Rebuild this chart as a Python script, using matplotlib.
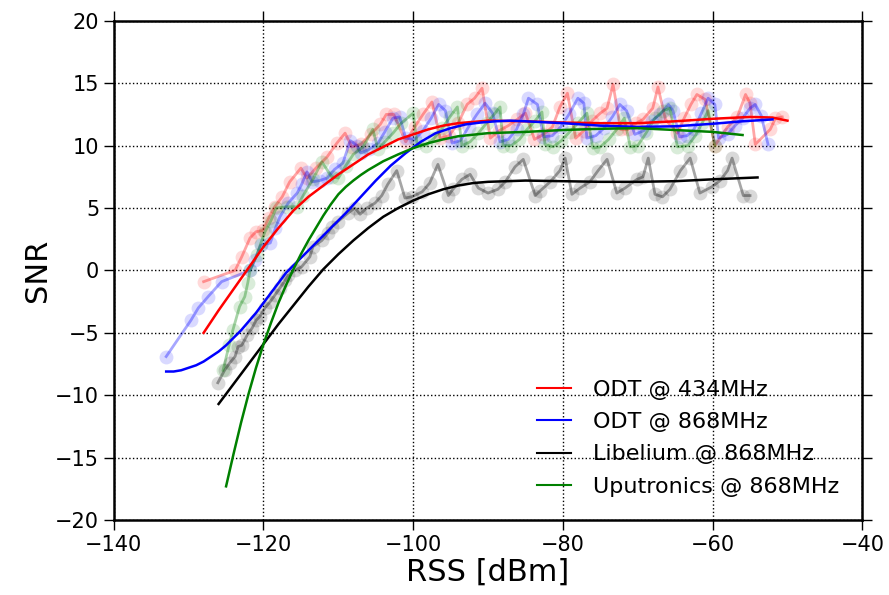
import matplotlib
matplotlib.use('Agg')
import matplotlib.pyplot as plt
import numpy as np

# raw measurements (RSS [dBm], SNR)
odt434_rss = [-128.0, -123.8, -122.9, -121.8, -121.0, -120.1, -119.3, -118.5, -117.5, -116.5,
              -115.0, -114.2, -113.0, -111.5, -110.2, -109.1, -108.2, -107.0, -105.7, -104.4,
              -103.6, -102.6, -101.0, -99.8, -98.7, -97.5, -96.4, -95.2, -94.0, -92.8,
              -91.8, -90.8, -89.7, -88.5, -87.3, -86.1, -85.0, -83.8, -82.6, -81.4,
              -80.4, -79.4, -78.3, -77.2, -76.1, -75.0, -74.1, -73.3, -72.3, -71.3,
              -70.2, -69.3, -68.0, -67.3, -66.3, -64.7, -63.8, -62.9, -62.1, -61.0,
              -59.7, -58.0, -56.7, -55.6, -55.0, -54.3, -52.3, -51.6, -50.7]
odt434_snr = [-0.9, 0.0, 1.1, 2.6, 3.1, 3.2, 4.2, 5.1, 5.9, 7.1,
              8.2, 7.4, 8.2, 9.1, 10.2, 11.0, 9.9, 10.1, 10.9, 11.7,
              12.5, 12.5, 10.3, 11.5, 12.5, 13.5, 10.6, 10.8, 11.8, 13.3,
              13.8, 14.6, 10.6, 11.2, 11.6, 12.1, 12.6, 10.5, 10.9, 11.5,
              13.1, 14.2, 10.6, 11.2, 12.0, 12.6, 13.0, 14.9, 11.3, 11.3,
              11.8, 12.1, 13.0, 14.7, 12.1, 11.0, 12.2, 13.3, 14.1, 13.7,
              10.0, 11.5, 12.3, 14.1, 13.4, 10.1, 11.3, 12.2, 12.3]

odt868_rss = [-133.0, -129.7, -128.7, -127.4, -125.6, -121.8, -121.2, -120.4, -119.1, -118.4,
              -117.8, -116.7, -115.5, -114.9, -114.2, -113.5, -112.5, -111.5, -110.5, -109.4,
              -108.4, -107.5, -107.0, -105.9, -104.7, -103.8, -102.7, -101.8, -101.0, -99.8,
              -98.7, -97.6, -96.6, -95.7, -94.8, -93.7, -92.6, -91.5, -90.4, -89.4,
              -88.4, -87.3, -86.2, -85.3, -84.6, -83.4, -82.6, -81.4, -80.3, -79.2,
              -78.0, -77.2, -76.8, -75.6, -74.5, -73.4, -72.4, -71.5, -70.4, -69.2,
              -68.1, -67.0, -65.9, -65.3, -64.4, -63.4, -62.5, -61.5, -60.6, -59.7,
              -59.2, -58.0, -57.0, -56.0, -55.0, -54.3, -53.5, -52.6]
odt868_snr = [-6.9, -4.0, -3.0, -2.1, -0.9, 0.0, 0.8, 2.0, 2.2, 3.4,
              4.3, 5.4, 6.2, 6.9, 7.9, 7.1, 7.2, 7.4, 8.1, 8.6,
              10.4, 10.0, 9.4, 9.7, 10.2, 11.1, 12.2, 12.3, 10.6, 10.5,
              11.2, 12.2, 13.3, 12.8, 10.2, 10.4, 11.5, 12.5, 13.4, 12.6,
              10.3, 10.5, 11.3, 12.5, 13.8, 13.3, 10.7, 10.8, 11.5, 12.5,
              13.8, 13.4, 10.6, 10.8, 11.4, 12.3, 13.3, 12.8, 10.9, 11.2,
              12.0, 12.5, 13.3, 12.8, 10.7, 10.8, 11.3, 12.6, 13.8, 13.3,
              10.6, 10.9, 11.6, 12.2, 13.0, 13.3, 12.4, 10.1]

lib868_rss = [-126.1, -125.2, -124.5, -123.8, -123.4, -122.9, -122.2, -121.5, -121.0, -120.5,
              -119.8, -119.1, -118.5, -117.8, -117.1, -116.7, -115.8, -114.9, -113.8, -113.4,
              -112.2, -111.4, -110.9, -110.1, -108.7, -107.8, -107.1, -106.2, -105.1, -104.2,
              -103.4, -102.2, -101.1, -100.2, -98.8, -97.8, -96.7, -95.3, -94.7, -93.5,
              -92.4, -91.3, -90.0, -88.7, -87.7, -86.4, -85.3, -83.7, -83.0, -81.7,
              -80.4, -79.7, -78.8, -77.7, -76.4, -75.3, -74.1, -72.8, -71.7, -70.1,
              -69.3, -68.6, -67.7, -66.7, -65.7, -64.3, -63.0, -61.7, -60.1, -59.0,
              -58.0, -57.4, -55.9, -55.0]
lib868_snr = [-9.0, -8.0, -7.4, -6.9, -6.1, -6.0, -5.2, -4.6, -4.0, -3.7,
              -3.0, -2.5, -2.0, -1.4, -0.8, -0.4, 0.0, 0.3, 1.1, 1.9,
              2.4, 3.0, 3.5, 3.9, 4.6, 5.0, 4.5, 5.0, 5.4, 6.0,
              6.9, 8.0, 5.8, 5.9, 6.3, 7.0, 8.5, 6.0, 6.5, 7.3,
              7.7, 6.6, 6.2, 6.5, 7.1, 8.3, 8.9, 6.0, 6.4, 7.1,
              8.0, 9.0, 6.1, 6.6, 7.1, 8.0, 8.9, 6.2, 6.6, 7.3,
              7.5, 9.0, 6.1, 5.9, 6.5, 8.0, 9.0, 6.2, 6.7, 7.2,
              8.0, 9.0, 6.0, 6.0]

upu868_rss = [-125.4, -124.6, -124.1, -123.2, -122.5, -122.1, -121.8, -120.9, -120.4, -119.8,
              -119.0, -118.3, -116.9, -115.5, -114.7, -113.4, -112.2, -110.9, -110.0, -109.0,
              -108.0, -106.7, -105.4, -104.7, -103.8, -102.7, -101.6, -100.0, -99.5, -98.3,
              -97.2, -96.1, -95.1, -94.1, -93.5, -92.4, -91.3, -90.2, -89.2, -88.4,
              -88.0, -86.9, -85.8, -84.8, -83.7, -82.8, -82.4, -81.3, -80.2, -79.1,
              -78.0, -76.8, -76.0, -75.0, -73.9, -72.8, -71.8, -71.0, -70.0, -68.9,
              -67.7, -66.6, -65.7, -64.7, -63.3, -62.3, -61.4, -60.6, -59.7]
upu868_snr = [-8.0, -6.0, -4.8, -2.9, -2.1, -1.0, 0.0, 1.2, 2.1, 3.1,
              4.0, 5.0, 5.1, 5.1, 6.0, 7.3, 8.7, 7.5, 7.4, 8.4,
              9.3, 9.9, 11.3, 9.7, 10.3, 11.0, 11.8, 12.6, 10.2, 10.0,
              10.6, 11.4, 12.3, 13.1, 10.0, 10.3, 11.0, 11.8, 12.5, 13.1,
              10.0, 10.0, 10.5, 11.3, 12.0, 12.7, 10.1, 9.9, 10.4, 11.1,
              11.8, 12.6, 9.8, 9.9, 10.5, 11.3, 12.2, 9.9, 10.0, 11.0,
              12.2, 12.8, 13.0, 9.9, 10.0, 10.8, 11.8, 12.8, 10.0]

# fitted curves
fit434_rss = [-128, -126, -124, -122, -120, -118, -116, -114, -112, -110, -108, -106, -104,
              -102, -100, -98, -96, -94, -92, -90, -85, -80, -75, -70, -65, -60, -55, -52, -50]
fit434_snr = [-5.0, -3.2, -1.5, 0.2, 1.9, 3.4, 4.8, 5.9, 6.8, 7.7, 8.5, 9.3, 9.9,
              10.5, 10.9, 11.3, 11.6, 11.8, 11.9, 12.0, 11.95, 11.85, 11.8, 11.8, 11.95, 12.15, 12.3, 12.25, 12.0]

fit868_rss = [-133, -132, -131, -130, -129, -128, -127, -126, -125, -124, -123, -122, -121,
              -120, -119, -118, -117, -116, -115, -113, -111, -109,
              -107, -105, -103, -101, -99, -97, -95, -93, -91, -89, -87, -85, -80, -75, -70,
              -65, -60, -56, -52]
fit868_snr = [-8.1, -8.1, -8.0, -7.8, -7.6, -7.3, -6.9, -6.5, -6.0, -5.4, -4.8, -4.1, -3.4,
              -2.6, -1.8, -1.0, -0.2, 0.4, 1.0, 2.2, 3.4, 4.6,
              5.9, 7.2, 8.4, 9.4, 10.3, 11.0, 11.4, 11.7, 11.85, 11.95, 12.0, 11.95, 11.8, 11.6, 11.5,
              11.55, 11.75, 11.95, 12.1]

fitlib_rss = [-126, -124, -122, -120, -118, -116, -114, -112, -110, -108, -106, -104, -102,
              -100, -98, -96, -94, -92, -90, -85, -80, -75, -70, -65, -60, -54]
fitlib_snr = [-10.7, -9.1, -7.5, -5.9, -4.3, -2.8, -1.3, 0.1, 1.3, 2.4, 3.4, 4.3, 5.0,
              5.6, 6.1, 6.5, 6.8, 7.0, 7.1, 7.2, 7.15, 7.1, 7.1, 7.15, 7.3, 7.45]

fitupu_rss = [-125, -124, -123, -122, -121, -120, -119, -118, -117, -116, -115, -114, -113,
              -112, -111, -110, -109, -108, -107, -106, -104, -102, -100, -98, -96, -94, -90, -85, -80,
              -75, -70, -65, -60, -56]
fitupu_snr = [-17.3, -14.7, -12.2, -9.9, -7.8, -5.9, -4.2, -2.6, -1.2, 0.1, 1.3, 2.4, 3.4,
              4.4, 5.3, 6.1, 6.7, 7.2, 7.65, 8.05, 8.75, 9.3, 9.8, 10.2, 10.5, 10.75, 11.0, 11.1, 11.25,
              11.35, 11.4, 11.25, 11.1, 10.85]

raw = [(odt434_rss, odt434_snr, 'r'), (odt868_rss, odt868_snr, 'b'),
       (lib868_rss, lib868_snr, 'k'), (upu868_rss, upu868_snr, 'g')]
fits = [(fit434_rss, fit434_snr, 'r', 'ODT @ 434MHz'),
        (fit868_rss, fit868_snr, 'b', 'ODT @ 868MHz'),
        (fitlib_rss, fitlib_snr, 'k', 'Libelium @ 868MHz'),
        (fitupu_rss, fitupu_snr, 'g', 'Uputronics @ 868MHz')]

fig = plt.figure(figsize=(8.89, 5.95), dpi=100)
ax = fig.add_axes([0.128, 0.126, 0.842, 0.839])

for x, y, c in raw:
	ax.plot(x, y, '-', color=c, alpha=0.35, lw=2)
	ax.plot(x, y, 'o', color=c, alpha=0.15, ms=10, mec='none')

for x, y, c, lab in fits:
	ax.plot(x, y, '-', color=c, lw=1.8, label=lab)

ax.set_xlim(-140, -40)
ax.set_ylim(-20, 20)
ax.set_xticks(np.arange(-140, -39, 20))
ax.set_yticks(np.arange(-20, 21, 5))
ax.grid(True, linestyle=':', color='k', lw=1)
ax.tick_params(direction='out', length=7, width=1, labelsize=15,
               top=True, right=True)
for s in ax.spines.values():
	s.set_linewidth(1.8)
ax.set_xlabel('RSS [dBm]', fontsize=22, labelpad=2)
ax.set_ylabel('SNR', fontsize=22, labelpad=2)
leg = ax.legend(loc='lower right', frameon=False, fontsize=16,
                handlelength=1.5, handletextpad=1.0, labelspacing=0.55,
                borderaxespad=0.65)
for l in leg.get_lines():
	l.set_linewidth(1.5)

fig.savefig('out.png', dpi=100)
